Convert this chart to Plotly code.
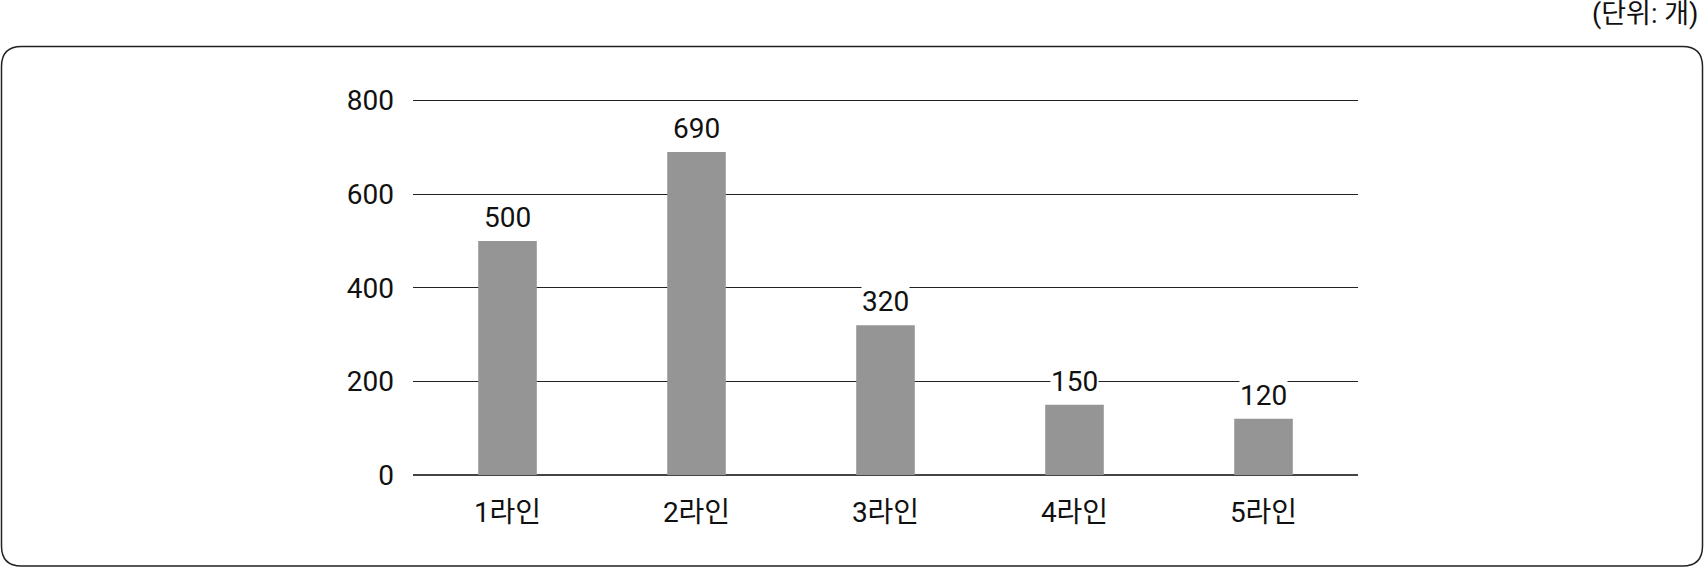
import plotly.graph_objects as go

# data
lines = ['1라인', '2라인', '3라인', '4라인', '5라인']
counts = [500, 690, 320, 150, 120]
y_ticks = [0, 200, 400, 600, 800]
unit_note = '(단위: 개)'

W, H = 1704, 568
y_max = 812  # a bit of headroom so the 800 gridline is drawn
zero_px, top_tick_px = 475, 101
unit_px = (zero_px - top_tick_px) / 800
L, R = 413, 346
B = H - zero_px
T = zero_px - y_max * unit_px
pw, ph = W - L - R, H - T - B


def px(x):
    return (x - L) / pw


def py(y):
    return (H - B - y) / ph


def rounded_box(x0, y0, x1, y1, r):
    # rounded rectangle in pixel space, converted to paper coords
    p = [
        f'M {px(x0 + r)} {py(y0)}',
        f'L {px(x1 - r)} {py(y0)}',
        f'Q {px(x1)} {py(y0)} {px(x1)} {py(y0 + r)}',
        f'L {px(x1)} {py(y1 - r)}',
        f'Q {px(x1)} {py(y1)} {px(x1 - r)} {py(y1)}',
        f'L {px(x0 + r)} {py(y1)}',
        f'Q {px(x0)} {py(y1)} {px(x0)} {py(y1 - r)}',
        f'L {px(x0)} {py(y0 + r)}',
        f'Q {px(x0)} {py(y0)} {px(x0 + r)} {py(y0)}',
        'Z',
    ]
    return ' '.join(p)


font = 'Roboto, Noto Sans CJK KR'

fig = go.Figure(go.Bar(x=lines, y=counts, width=0.31,
                       marker=dict(color='#959595', line=dict(width=0))))

for cat, val in zip(lines, counts):
    fig.add_annotation(x=cat, y=val, text=str(val), showarrow=False,
                       yanchor='bottom', yshift=6, bgcolor='white',
                       borderpad=0,
                       font=dict(family=font, size=28, color='#111'))

fig.add_annotation(xref='paper', yref='paper', x=px(1700), y=py(14),
                   xanchor='right', yanchor='middle', text=unit_note,
                   showarrow=False, font=dict(family=font, size=27, color='#111'))

fig.add_shape(type='path', xref='paper', yref='paper',
              path=rounded_box(1.5, 47, 1702.5, 566, 20),
              line=dict(color='#222', width=1.5), layer='below')

fig.update_layout(
    width=W, height=H,
    margin=dict(l=L, r=R, t=T, b=B),
    plot_bgcolor='white', paper_bgcolor='white',
    showlegend=False,
    font=dict(family=font, size=28, color='#111'),
    xaxis=dict(showgrid=False, showline=False, ticks='',
               ticklabelstandoff=18, tickfont=dict(size=28)),
    yaxis=dict(range=[0, y_max], tickvals=y_ticks, showgrid=True,
               gridcolor='#222', gridwidth=1.3, zeroline=True,
               zerolinecolor='#444', zerolinewidth=1.5, showline=False,
               ticks='', ticklabelstandoff=18, tickfont=dict(size=28)),
)

fig.write_html('out.html', config={'displayModeBar': False},
               post_script="document.body.style.margin='0';"
                           "document.body.style.overflow='hidden';")
